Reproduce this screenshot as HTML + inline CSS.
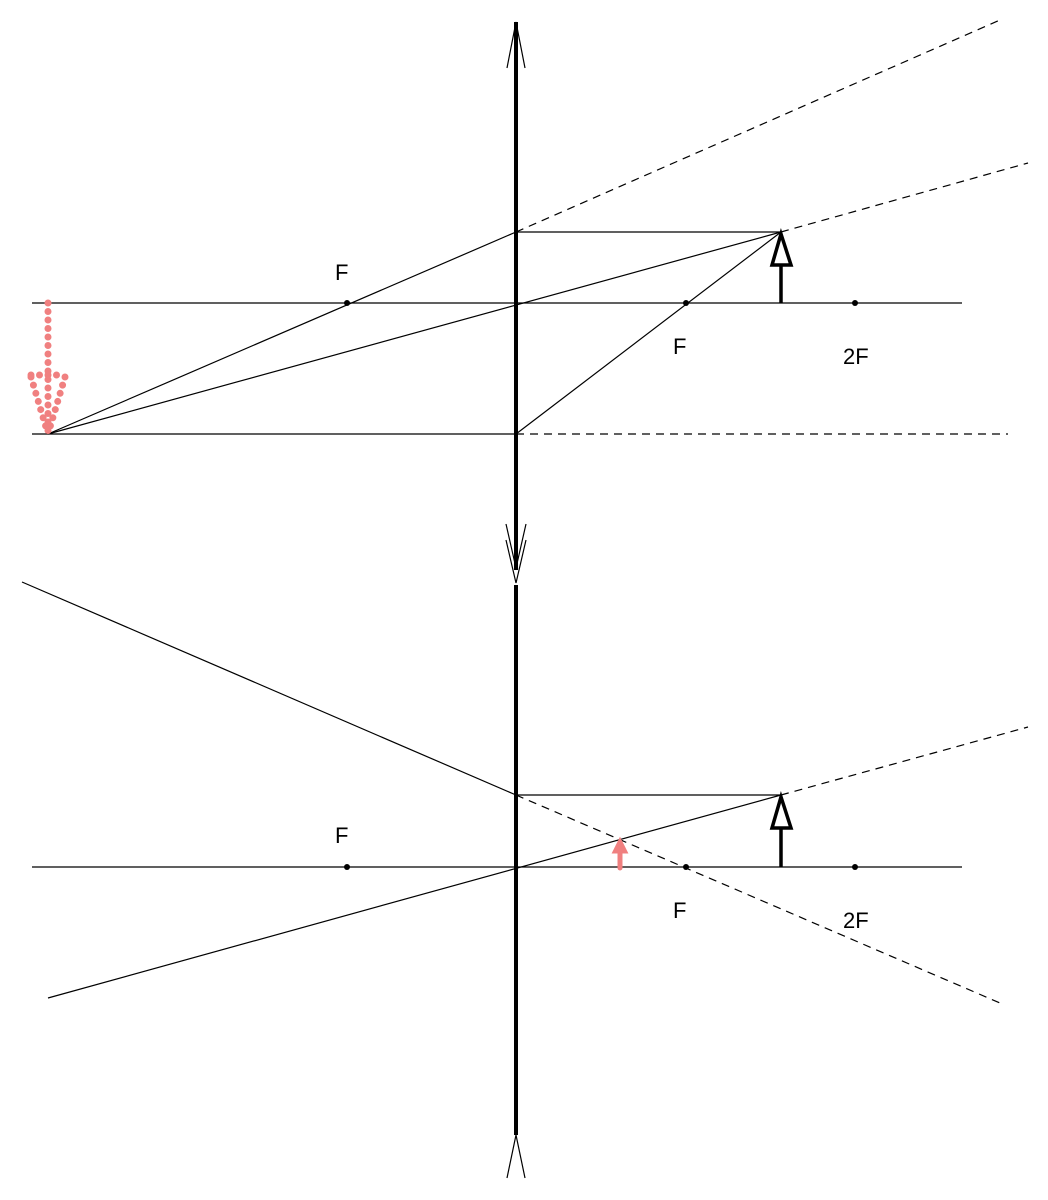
<!DOCTYPE html>
<html><head><meta charset="utf-8"><style>
html,body{margin:0;padding:0;background:#fff;}
svg{display:block;}
text{font-family:"Liberation Sans",sans-serif;font-size:22px;fill:#000;}
</style></head><body>
<svg width="1048" height="1200" viewBox="0 0 1048 1200" xmlns="http://www.w3.org/2000/svg">
<g stroke="#000" fill="none" stroke-width="1.2">
<line x1="32" y1="303" x2="962" y2="303"/>
<line x1="32" y1="434" x2="516" y2="434"/>
<line x1="516" y1="434" x2="1008" y2="434" stroke-dasharray="8,6"/>
<line x1="516" y1="232" x2="781" y2="232"/>
<line x1="516" y1="232" x2="48" y2="434"/>
<line x1="516" y1="232" x2="1000" y2="20" stroke-dasharray="8,6"/>
<line x1="781" y1="232" x2="48" y2="434"/>
<line x1="781" y1="232" x2="1028" y2="163" stroke-dasharray="8,6"/>
<line x1="781" y1="232" x2="516" y2="434"/>
<line x1="32" y1="867" x2="962" y2="867"/>
<line x1="516" y1="795" x2="781" y2="795"/>
<line x1="516" y1="795" x2="22" y2="582"/>
<line x1="516" y1="795" x2="1000" y2="1003" stroke-dasharray="8,6"/>
<line x1="48" y1="998" x2="781" y2="795"/>
<line x1="781" y1="795" x2="1028" y2="727" stroke-dasharray="8,6"/>
<polyline points="507,68 516,22 525,68"/>
<polyline points="506,524 516,568 526,524"/>
<polyline points="506,540 516,583 526,540"/>
<polyline points="507,1178 516,1135 525,1178"/>
</g>
<line x1="516" y1="22" x2="516" y2="570" stroke="#000" stroke-width="4"/>
<line x1="516" y1="585" x2="516" y2="1135" stroke="#000" stroke-width="4"/>
<g stroke="#000" stroke-width="3.5" fill="#fff">
<line x1="781" y1="303" x2="781" y2="262"/>
<polygon points="781,234 772,265 791,265"/>
<line x1="781" y1="867" x2="781" y2="826"/>
<polygon points="781,797 772,828 791,828"/>
</g>
<g fill="#000">
<circle cx="347" cy="303" r="3"/><circle cx="686" cy="303" r="3"/><circle cx="855" cy="303" r="3"/>
<circle cx="347" cy="867" r="3"/><circle cx="686" cy="867" r="3"/><circle cx="855" cy="867" r="3"/>
</g>
<g stroke="#f08080" stroke-width="7" stroke-linecap="round" fill="none" stroke-dasharray="0,8.5">
<line x1="48" y1="303" x2="48" y2="434"/>
<line x1="31" y1="375" x2="65" y2="375"/>
<line x1="31" y1="377" x2="48" y2="434"/>
<line x1="65" y1="377" x2="48" y2="434"/>
</g>
<g stroke="#f08080" stroke-width="5" stroke-linecap="round" fill="#f08080">
<line x1="620" y1="868" x2="620" y2="850"/>
<polygon points="620,840 614,852 626,852" stroke-width="3"/>
</g>
<text x="335" y="280">F</text>
<text x="673" y="354">F</text>
<text x="843" y="364">2F</text>
<text x="335" y="843">F</text>
<text x="673" y="918">F</text>
<text x="843" y="928">2F</text>
</svg>
</body></html>
